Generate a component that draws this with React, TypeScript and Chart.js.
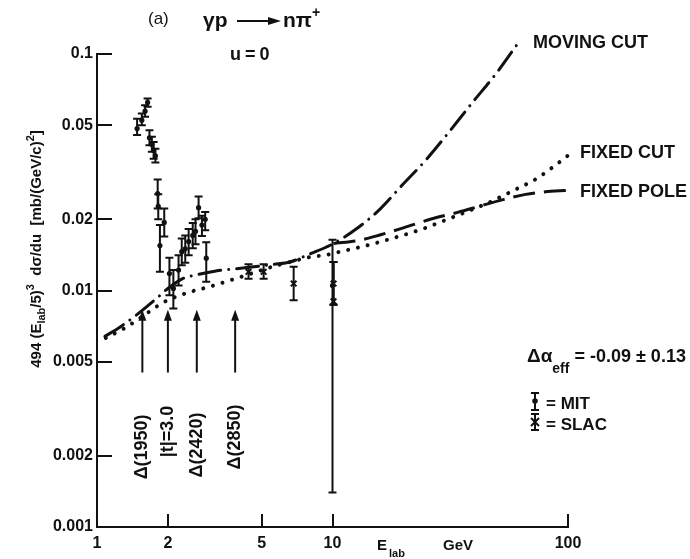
import React, { useEffect, useRef } from "react";
import { Chart, registerables } from "chart.js";

Chart.register(...registerables);

const INK = "#111";
const FONT = '"Liberation Sans", Arial, sans-serif';

// Axis ticks
const xTicks = [1, 2, 5, 10, 100];
const xTickLabels = ["1", "2", "5", "10", "100"];
const yTicks = [0.001, 0.002, 0.005, 0.01, 0.02, 0.05, 0.1];
const yTickLabels = ["0.001", "0.002", "0.005", "0.01", "0.02", "0.05", "0.1"];

// MIT measurements: E_lab (GeV), value, lower and upper error limits
const mitE = [1.48, 1.55, 1.6, 1.64, 1.67, 1.71, 1.74, 1.77, 1.81, 1.82, 1.85, 1.93, 2.03, 2.11, 2.22, 2.29, 2.37, 2.45, 2.55, 2.62, 2.7, 2.79, 2.88, 2.91, 10.0];
const mitY = [0.0484, 0.0525, 0.0573, 0.0624, 0.0442, 0.0414, 0.0392, 0.0371, 0.0257, 0.0227, 0.0155, 0.0194, 0.0118, 0.0102, 0.0122, 0.0146, 0.015, 0.0161, 0.0171, 0.0178, 0.0224, 0.0189, 0.02, 0.0137, 0.0105];
const mitLo = [0.0454, 0.05, 0.0543, 0.0598, 0.0411, 0.0386, 0.0361, 0.0348, 0.0222, 0.02, 0.012, 0.0169, 0.00955, 0.0084, 0.0105, 0.0128, 0.0131, 0.0141, 0.0151, 0.0157, 0.0202, 0.017, 0.018, 0.0109, 0.0014];
const mitHi = [0.0533, 0.056, 0.0607, 0.0649, 0.0476, 0.0447, 0.0425, 0.0398, 0.0295, 0.0255, 0.0189, 0.0222, 0.01375, 0.0122, 0.0141, 0.0166, 0.0171, 0.0182, 0.0193, 0.02, 0.025, 0.0207, 0.0215, 0.016, 0.0164];

// SLAC measurements
const slacE = [4.4, 5.1, 6.84, 10.1, 10.1];
const slacY = [0.012, 0.012, 0.0107, 0.0107, 0.009];
const slacLo = [0.0112, 0.0112, 0.0091, 0.0087, 0.0087];
const slacHi = [0.0129, 0.0129, 0.0126, 0.0132, 0.0132];

// Regge fits
const movingCutE = [1.08, 1.25, 1.5, 1.8, 2.0, 2.3, 2.7, 3.2, 4.0, 5.0, 5.6, 6.6, 7.9, 10.1, 12.9, 16.0, 19.5, 24.9, 31.3, 39.3, 49.9, 62.1];
const movingCutY = [0.0064, 0.007, 0.008, 0.0093, 0.0102, 0.0112, 0.0117, 0.0121, 0.0124, 0.0127, 0.0129, 0.0132, 0.0142, 0.0158, 0.0185, 0.0222, 0.0275, 0.0356, 0.0469, 0.0624, 0.0835, 0.113];
const fixedCutE = [1.09, 1.3, 1.57, 1.91, 2.44, 3.03, 3.74, 4.19, 5.7, 7.0, 7.9, 9.6, 10.8, 13.25, 16.8, 23.7, 30.0, 38.7, 46.0, 53.6, 62.0, 71.9, 84.7, 104.8];
const fixedCutY = [0.0063, 0.0069, 0.0078, 0.0089, 0.0098, 0.0104, 0.0111, 0.0115, 0.0127, 0.0134, 0.0138, 0.0142, 0.0146, 0.0153, 0.0163, 0.0181, 0.0198, 0.0219, 0.0235, 0.0253, 0.0272, 0.0293, 0.0328, 0.0386];
const fixedPoleE = [10.1, 13, 16, 20, 26, 34, 42, 52, 66, 82, 106];
const fixedPoleY = [0.0158, 0.0163, 0.0172, 0.0184, 0.02, 0.0214, 0.0227, 0.0241, 0.0255, 0.0262, 0.0266];

// Resonance / threshold markers (E_lab in GeV)
const markerE = [1.558, 2.0, 2.653, 3.86];
const markerLabels = ["Δ(1950)", "|t|=3.0", "Δ(2420)", "Δ(2850)"];
const markerLabelBase = [0.00159, 0.00197, 0.00162, 0.00175];
const arrowTipY = 0.0083;
const arrowTailY = 0.0045;

const pts = (xs: number[], ys: number[]) => xs.map((x, i) => ({ x, y: ys[i] }));

const errorBarPlugin = {
  id: "errorBars",
  beforeDatasetsDraw(chart: any) {
    const ctx = chart.ctx;
    const ys = chart.scales.y;
    chart.data.datasets.forEach((ds: any, di: number) => {
      if (!ds.errLo) return;
      const meta = chart.getDatasetMeta(di);
      ctx.save();
      ctx.strokeStyle = INK;
      ctx.lineWidth = 2;
      meta.data.forEach((el: any, i: number) => {
        const lo = ds.errLo[i];
        const hi = ds.errHi[i];
        if (lo == null || hi == null) return;
        const x = el.x;
        const y1 = ys.getPixelForValue(hi);
        const y2 = ys.getPixelForValue(lo);
        ctx.beginPath();
        ctx.moveTo(x, y1);
        ctx.lineTo(x, y2);
        ctx.moveTo(x - 4, y1);
        ctx.lineTo(x + 4, y1);
        ctx.moveTo(x - 4, y2);
        ctx.lineTo(x + 4, y2);
        ctx.stroke();
      });
      ctx.restore();
    });
  },
};

type Run = { t: string; size: number; dy?: number; weight?: string };

function drawRuns(ctx: CanvasRenderingContext2D, runs: Run[], x: number, y: number, align: "left" | "center") {
  let total = 0;
  runs.forEach((r) => {
    ctx.font = `${r.weight || "bold"} ${r.size}px ${FONT}`;
    total += ctx.measureText(r.t).width;
  });
  let cx = align === "center" ? x - total / 2 : x;
  ctx.textAlign = "left";
  ctx.textBaseline = "middle";
  runs.forEach((r) => {
    ctx.font = `${r.weight || "bold"} ${r.size}px ${FONT}`;
    ctx.fillText(r.t, cx, y + (r.dy || 0));
    cx += ctx.measureText(r.t).width;
  });
}

const annotationPlugin = {
  id: "annotations",
  afterDraw(chart: any) {
    const ctx: CanvasRenderingContext2D = chart.ctx;
    const xs = chart.scales.x;
    const ys = chart.scales.y;
    const area = chart.chartArea;
    ctx.save();
    ctx.fillStyle = INK;
    ctx.strokeStyle = INK;

    // inward tick marks
    ctx.lineWidth = 2;
    yTicks.forEach((v, i) => {
      if (i === 0) return;
      const py = Math.round(ys.getPixelForValue(v));
      ctx.beginPath();
      ctx.moveTo(area.left, py);
      ctx.lineTo(area.left + 15, py);
      ctx.stroke();
    });
    xTicks.forEach((v, i) => {
      if (i === 0) return;
      const px = Math.round(xs.getPixelForValue(v));
      ctx.beginPath();
      ctx.moveTo(px, area.bottom);
      ctx.lineTo(px, area.bottom - 13);
      ctx.stroke();
    });

    // y-axis title
    ctx.save();
    ctx.translate(37, 249);
    ctx.rotate(-Math.PI / 2);
    drawRuns(
      ctx,
      [
        { t: "494 (E", size: 15 },
        { t: "lab", size: 11, dy: 5 },
        { t: "/5)", size: 15 },
        { t: "3", size: 11, dy: -6 },
        { t: "  dσ/du  [mb/(GeV/c)", size: 15 },
        { t: "2", size: 11, dy: -6 },
        { t: "]", size: 15 },
      ],
      0,
      0,
      "center"
    );
    ctx.restore();

    // x-axis title
    drawRuns(ctx, [{ t: "E", size: 15 }], 377, 546, "left");
    drawRuns(ctx, [{ t: "lab", size: 11 }], 389, 554, "left");
    drawRuns(ctx, [{ t: "GeV", size: 15 }], 443, 546, "left");

    // panel title and reaction
    drawRuns(ctx, [{ t: "(a)", size: 17, weight: "normal" }], 148, 19, "left");
    drawRuns(ctx, [{ t: "γp", size: 21 }], 203, 21, "left");
    ctx.lineWidth = 2;
    ctx.beginPath();
    ctx.moveTo(237, 21);
    ctx.lineTo(272, 21);
    ctx.stroke();
    ctx.beginPath();
    ctx.moveTo(281, 21);
    ctx.lineTo(268, 17);
    ctx.lineTo(268, 25);
    ctx.closePath();
    ctx.fill();
    drawRuns(ctx, [{ t: "nπ", size: 21 }, { t: "+", size: 14, dy: -8 }], 283, 21, "left");
    ctx.save();
    (ctx as any).letterSpacing = "4px";
    drawRuns(ctx, [{ t: "u=0", size: 18 }], 230, 55, "left");
    ctx.restore();

    // curve labels
    drawRuns(ctx, [{ t: "MOVING CUT", size: 18 }], 533, 43, "left");
    drawRuns(ctx, [{ t: "FIXED CUT", size: 18 }], 580, 153, "left");
    drawRuns(ctx, [{ t: "FIXED POLE", size: 18 }], 580, 192, "left");

    // effective trajectory shift
    drawRuns(
      ctx,
      [
        { t: "Δα", size: 19 },
        { t: "eff", size: 14, dy: 12 },
        { t: " = -0.09 ± 0.13", size: 18 },
      ],
      527,
      357,
      "left"
    );

    // data legend
    ctx.lineWidth = 2;
    const glyph = (x: number, yTop: number, yBot: number) => {
      ctx.beginPath();
      ctx.moveTo(x, yTop);
      ctx.lineTo(x, yBot);
      ctx.moveTo(x - 4, yTop);
      ctx.lineTo(x + 4, yTop);
      ctx.moveTo(x - 4, yBot);
      ctx.lineTo(x + 4, yBot);
      ctx.stroke();
    };
    glyph(535, 393, 410);
    ctx.beginPath();
    ctx.arc(535, 401, 2.8, 0, Math.PI * 2);
    ctx.fill();
    glyph(535, 414, 430);
    ctx.beginPath();
    ctx.moveTo(531, 418);
    ctx.lineTo(539, 426);
    ctx.moveTo(539, 418);
    ctx.lineTo(531, 426);
    ctx.stroke();
    drawRuns(ctx, [{ t: "= MIT", size: 17 }], 546, 404, "left");
    drawRuns(ctx, [{ t: "= SLAC", size: 17 }], 546, 425, "left");

    // resonance arrows and labels
    markerE.forEach((e, i) => {
      const px = xs.getPixelForValue(e);
      const tip = ys.getPixelForValue(arrowTipY);
      const tail = ys.getPixelForValue(arrowTailY);
      ctx.lineWidth = 2;
      ctx.beginPath();
      ctx.moveTo(px, tail);
      ctx.lineTo(px, tip + 8);
      ctx.stroke();
      ctx.beginPath();
      ctx.moveTo(px, tip);
      ctx.lineTo(px - 4, tip + 11);
      ctx.lineTo(px + 4, tip + 11);
      ctx.closePath();
      ctx.fill();
      const by = ys.getPixelForValue(markerLabelBase[i]);
      ctx.save();
      ctx.translate(px, by);
      ctx.rotate(-Math.PI / 2);
      drawRuns(ctx, [{ t: markerLabels[i], size: 18 }], 0, 0, "left");
      ctx.restore();
    });

    ctx.restore();
  },
};

export default function App() {
  const ref = useRef<HTMLCanvasElement | null>(null);

  useEffect(() => {
    document.body.style.margin = "0";
    const canvas = ref.current;
    if (!canvas) return;
    const tickFont = { family: FONT, size: 16, weight: "bold" as const };
    const chart = new Chart(canvas, {
      type: "scatter",
      data: {
        datasets: [
          {
            label: "moving cut",
            data: pts(movingCutE, movingCutY),
            showLine: true,
            borderColor: INK,
            borderWidth: 3,
            borderDash: [22, 8, 0.01, 8],
            borderCapStyle: "round",
            pointRadius: 0,
            cubicInterpolationMode: "monotone",
            clip: false,
          } as any,
          {
            label: "fixed cut",
            data: pts(fixedCutE, fixedCutY),
            showLine: true,
            borderColor: INK,
            borderWidth: 4,
            borderDash: [0.01, 10],
            borderCapStyle: "round",
            pointRadius: 0,
            cubicInterpolationMode: "monotone",
            clip: false,
          } as any,
          {
            label: "fixed pole",
            data: pts(fixedPoleE, fixedPoleY),
            showLine: true,
            borderColor: INK,
            borderWidth: 3,
            borderDash: [22, 9],
            pointRadius: 0,
            cubicInterpolationMode: "monotone",
            clip: false,
          } as any,
          {
            label: "MIT",
            data: pts(mitE, mitY),
            errLo: mitLo,
            errHi: mitHi,
            pointStyle: "circle",
            pointRadius: 2.6,
            backgroundColor: INK,
            borderColor: INK,
            borderWidth: 0,
          } as any,
          {
            label: "SLAC",
            data: pts(slacE, slacY),
            errLo: slacLo,
            errHi: slacHi,
            pointStyle: "crossRot",
            pointRadius: 4,
            borderColor: INK,
            borderWidth: 2,
          } as any,
        ],
      },
      options: {
        responsive: false,
        animation: false,
        devicePixelRatio: 1,
        layout: { padding: { left: 0, right: 122, top: 54, bottom: 0 } },
        plugins: { legend: { display: false }, tooltip: { enabled: false } },
        scales: {
          x: {
            type: "logarithmic",
            position: "bottom",
            min: 1,
            max: 100,
            afterFit: (s: any) => {
              s.height = 32;
            },
            afterBuildTicks: (s: any) => {
              s.ticks = xTicks.map((v) => ({ value: v }));
            },
            ticks: {
              autoSkip: false,
              maxRotation: 0,
              padding: 7,
              color: INK,
              font: tickFont,
              callback: (_v: any, i: number) => xTickLabels[i],
            },
            grid: { display: false, drawTicks: false },
            border: { display: true, color: INK, width: 2 },
          },
          y: {
            type: "logarithmic",
            position: "left",
            min: 0.001,
            max: 0.1,
            afterFit: (s: any) => {
              s.width = 97;
            },
            afterBuildTicks: (s: any) => {
              s.ticks = yTicks.map((v) => ({ value: v }));
            },
            ticks: {
              autoSkip: false,
              padding: 4,
              color: INK,
              font: tickFont,
              callback: (_v: any, i: number) => yTickLabels[i],
            },
            grid: { display: false, drawTicks: false },
            border: { display: true, color: INK, width: 2 },
          },
        },
      } as any,
      plugins: [errorBarPlugin, annotationPlugin],
    });
    return () => chart.destroy();
  }, []);

  return (
    <div style={{ width: 690, height: 559, background: "#fff" }}>
      <canvas ref={ref} width={690} height={559} style={{ display: "block", width: 690, height: 559 }} />
    </div>
  );
}
